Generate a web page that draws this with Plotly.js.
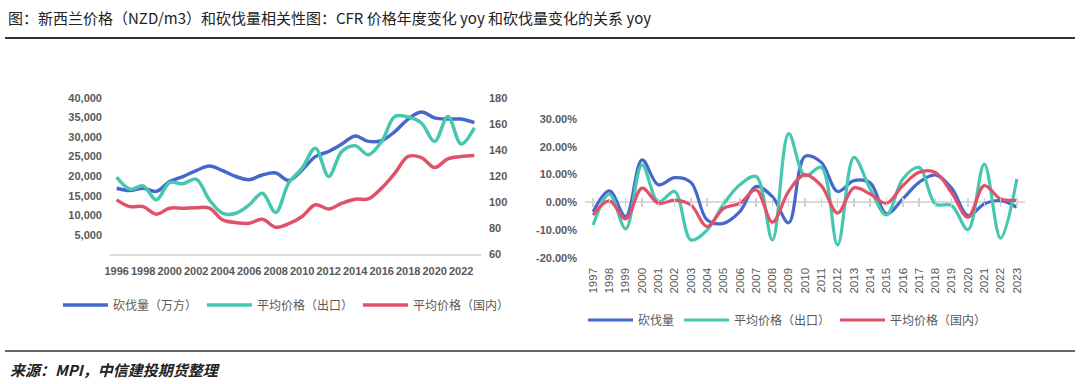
<!DOCTYPE html>
<html>
<head>
<meta charset="utf-8">
<script src="https://cdn.plot.ly/plotly-3.0.1.min.js"></script>
<style>
  html, body { margin: 0; padding: 0; background: #fff; }
  #chart { width: 1080px; height: 384px; }
</style>
</head>
<body>
<div id="chart"></div>
<script>
// ---------- data (left chart) ----------
const years = ['1996','1997','1998','1999','2000','2001','2002','2003','2004','2005','2006','2007','2008','2009',
               '2010','2011','2012','2013','2014','2015','2016','2017','2018','2019','2020','2021','2022','2023'];
const harvest = [16900,16300,16900,16100,18600,19900,21400,22600,21400,19900,19100,20300,20800,18900,
                 21600,25000,26300,28200,30300,28900,29100,31400,34600,36400,34900,34600,34600,33700];
const exportPrice = [119.2,110,112.5,101.8,115.1,114.1,117.7,101.8,91.5,91.5,97.9,106.9,92,115,
                     126.2,141.5,119.7,139,143.3,136.4,146.6,165.8,165.4,160.8,146.6,165.8,144.6,157];
const domesticPrice = [101.8,96.6,96.6,90.8,95.4,95.4,95.8,95.4,86.4,84.3,83.8,86.9,80.8,83.5,
                       89,98,94.8,99.2,102.3,102.5,110.8,122.3,135.1,134.3,126.6,133.3,135,135.8];
const leftTickYears = ['1996','1998','2000','2002','2004','2006','2008','2010','2012','2014','2016','2018','2020','2022'];
const leftYTicks = [5000,10000,15000,20000,25000,30000,35000,40000];
const rightYTicks = [60,80,100,120,140,160,180];

// ---------- data (right chart, yoy %) ----------
const yoyYears = ['1997','1998','1999','2000','2001','2002','2003','2004','2005','2006','2007','2008','2009',
                  '2010','2011','2012','2013','2014','2015','2016','2017','2018','2019','2020','2021','2022','2023'];
const harvestYoy = [-3.4,4.1,-5.2,15.3,6.3,8.9,7.2,-6.4,-7.6,-3.4,5.7,2.0,-7.4,
                    16.6,14.4,3.9,7.8,7.0,-4.2,1.2,7.2,9.9,5.1,-4.8,-0.6,0.6,-1.8];
const exportYoy = [-8.2,2.9,-9.6,13.5,0.2,3.9,-13.6,-10,-0.7,6.3,9.3,-13.6,24.8,
                   9.6,12.6,-15.4,16.2,4.8,-4.6,8.4,12.6,-0.6,-1.2,-9.9,13.8,-13.0,8.4];
const domesticYoy = [-4.6,0.5,-6.0,5.1,-0.4,0.8,-1.0,-8.8,-2.2,-0.4,4.5,-7.2,4.0,
                     10.0,6.0,-3.9,5.2,3.0,-0.4,6.0,10.8,10.8,3.4,-5.4,6.0,1.2,0.8];
const yoyTicks = [-20,-10,0,10,20,30];
const yoyTickText = yoyTicks.map(v => v.toFixed(2) + '%');

const names1 = ['砍伐量（万方）','平均价格（出口）','平均价格（国内）'];
const names2 = ['砍伐量','平均价格（出口）','平均价格（国内）'];

// ---------- styles ----------
const BLUE = '#4468CC', TEAL = '#47C6B0', RED = '#E3506A';
const GRAY_TXT = '#595959';
const tickFont = {family: 'Liberation Sans, Arial, sans-serif', size: 11, color: GRAY_TXT, weight: 'bold'};
const cjk = 'Noto Sans CJK SC, sans-serif';

const yoyRange = [-20, 30];
const y3Domain = [0.329, 0.6896];
const zeroPos = y3Domain[0] + (0 - yoyRange[0]) / (yoyRange[1] - yoyRange[0]) * (y3Domain[1] - y3Domain[0]);
const leftXRange = [-0.5, years.length - 0.5];
const rightXRange = [-0.5, yoyYears.length - 0.5];

const traces = [
  {x: years, y: harvest, name: names1[0], xaxis: 'x', yaxis: 'y', mode: 'lines',
   line: {color: BLUE, width: 3.5, shape: 'spline', smoothing: 1}, legend: 'legend'},
  {x: years, y: exportPrice, name: names1[1], xaxis: 'x', yaxis: 'y2', mode: 'lines',
   line: {color: TEAL, width: 3.5, shape: 'spline', smoothing: 1}, legend: 'legend'},
  {x: years, y: domesticPrice, name: names1[2], xaxis: 'x', yaxis: 'y2', mode: 'lines',
   line: {color: RED, width: 3.5, shape: 'spline', smoothing: 1}, legend: 'legend'},
  // invisible carriers for the zero-line tick axes
  {x: yoyYears, y: harvestYoy, xaxis: 'x3', yaxis: 'y3', mode: 'lines', opacity: 0,
   line: {width: 0}, showlegend: false, hoverinfo: 'skip'},
  {x: yoyYears, y: harvestYoy, xaxis: 'x4', yaxis: 'y3', mode: 'lines', opacity: 0,
   line: {width: 0}, showlegend: false, hoverinfo: 'skip'},
  {x: yoyYears, y: harvestYoy, name: names2[0], xaxis: 'x2', yaxis: 'y3', mode: 'lines',
   line: {color: BLUE, width: 3.2, shape: 'spline', smoothing: 1}, legend: 'legend2'},
  {x: yoyYears, y: exportYoy, name: names2[1], xaxis: 'x2', yaxis: 'y3', mode: 'lines',
   line: {color: TEAL, width: 3.2, shape: 'spline', smoothing: 1}, legend: 'legend2'},
  {x: yoyYears, y: domesticYoy, name: names2[2], xaxis: 'x2', yaxis: 'y3', mode: 'lines',
   line: {color: RED, width: 3.2, shape: 'spline', smoothing: 1}, legend: 'legend2'}
];

const catAxisCommon = {
  type: 'category', showgrid: false, zeroline: false, fixedrange: true
};

const layout = {
  width: 1080, height: 384,
  margin: {l: 0, r: 0, t: 0, b: 0},
  paper_bgcolor: '#ffffff', plot_bgcolor: 'rgba(0,0,0,0)',
  font: {family: 'Liberation Sans, Arial, sans-serif', size: 11, color: GRAY_TXT},
  hovermode: false,
  title: {
    text: '图：新西兰价格（NZD/m3）和砍伐量相关性图：CFR 价格年度变化 yoy 和砍伐量变化的关系 yoy',
    x: 8 / 1080, xanchor: 'left', xref: 'paper',
    y: 1 - 19 / 384, yanchor: 'middle', yref: 'container',
    font: {family: cjk, size: 15, color: '#222222'}
  },
  xaxis: Object.assign({}, catAxisCommon, {
    domain: [110 / 1080, 481 / 1080], anchor: 'y', range: leftXRange,
    categoryorder: 'array', categoryarray: years,
    tickvals: leftTickYears, ticktext: leftTickYears, tickangle: 0,
    showline: true, linecolor: '#D9D9D9', linewidth: 1.5, ticks: '',
    tickfont: tickFont, ticklabelstandoff: 6
  }),
  yaxis: {
    domain: [0.3378, 0.7448], anchor: 'x', range: [0, 40000],
    tickvals: leftYTicks, tickformat: ',d',
    showgrid: false, zeroline: false, showline: false, ticks: '',
    tickfont: tickFont, ticklabelstandoff: 7, fixedrange: true
  },
  yaxis2: {
    overlaying: 'y', side: 'right', anchor: 'x', range: [60, 180],
    tickvals: rightYTicks,
    showgrid: false, zeroline: false, showline: false, ticks: '',
    tickfont: tickFont, ticklabelstandoff: 7, fixedrange: true
  },
  xaxis2: Object.assign({}, catAxisCommon, {
    domain: [585 / 1080, 1025 / 1080], anchor: 'y3', range: rightXRange,
    categoryorder: 'array', categoryarray: yoyYears,
    tickangle: -90, showline: false, ticks: '',
    tickfont: {family: 'Liberation Sans, Arial, sans-serif', size: 11.5, color: GRAY_TXT},
    ticklabelstandoff: 7
  }),
  xaxis3: Object.assign({}, catAxisCommon, {
    overlaying: 'x2', anchor: 'free', position: zeroPos, range: rightXRange,
    categoryorder: 'array', categoryarray: yoyYears,
    showticklabels: false, showline: false,
    ticks: 'outside', ticklen: 4, tickwidth: 1.5, tickcolor: '#D0D0D0'
  }),
  xaxis4: Object.assign({}, catAxisCommon, {
    overlaying: 'x2', anchor: 'free', position: zeroPos, range: rightXRange,
    categoryorder: 'array', categoryarray: yoyYears,
    showticklabels: false, showline: false,
    ticks: 'inside', ticklen: 4, tickwidth: 1.5, tickcolor: '#D0D0D0'
  }),
  yaxis3: {
    domain: y3Domain, anchor: 'x2', range: yoyRange,
    tickvals: yoyTicks, ticktext: yoyTickText,
    showgrid: false, showline: false, ticks: '',
    zeroline: true, zerolinecolor: '#D9D9D9', zerolinewidth: 2,
    tickfont: tickFont, ticklabelstandoff: 7, fixedrange: true
  },
  legend: {
    orientation: 'h', x: 58 / 1080, xanchor: 'left', y: 1 - 305 / 384, yanchor: 'middle',
    font: {family: cjk, size: 12, color: GRAY_TXT}, bgcolor: 'rgba(0,0,0,0)',
    itemwidth: 45, tracegroupgap: 0
  },
  legend2: {
    orientation: 'h', x: 583 / 1080, xanchor: 'left', y: 1 - 320 / 384, yanchor: 'middle',
    font: {family: cjk, size: 12, color: GRAY_TXT}, bgcolor: 'rgba(0,0,0,0)',
    itemwidth: 45, tracegroupgap: 0
  },
  shapes: [
    {type: 'line', xref: 'paper', yref: 'paper', x0: 5 / 1080, x1: 1075 / 1080,
     y0: 1 - 38 / 384, y1: 1 - 38 / 384, line: {color: '#333333', width: 2}},
    {type: 'line', xref: 'paper', yref: 'paper', x0: 5 / 1080, x1: 1075 / 1080,
     y0: 1 - 351 / 384, y1: 1 - 351 / 384, line: {color: '#333333', width: 1.5}}
  ],
  annotations: [
    {text: '<b><i>来源：MPI，中信建投期货整理</i></b>', xref: 'paper', yref: 'paper',
     x: 8 / 1080, xanchor: 'left', y: 1 - 369 / 384, yanchor: 'middle', showarrow: false,
     font: {family: cjk, size: 15, color: '#222222'}}
  ]
};

Plotly.newPlot('chart', traces, layout, {displayModeBar: false, staticPlot: true});
</script>
</body>
</html>
